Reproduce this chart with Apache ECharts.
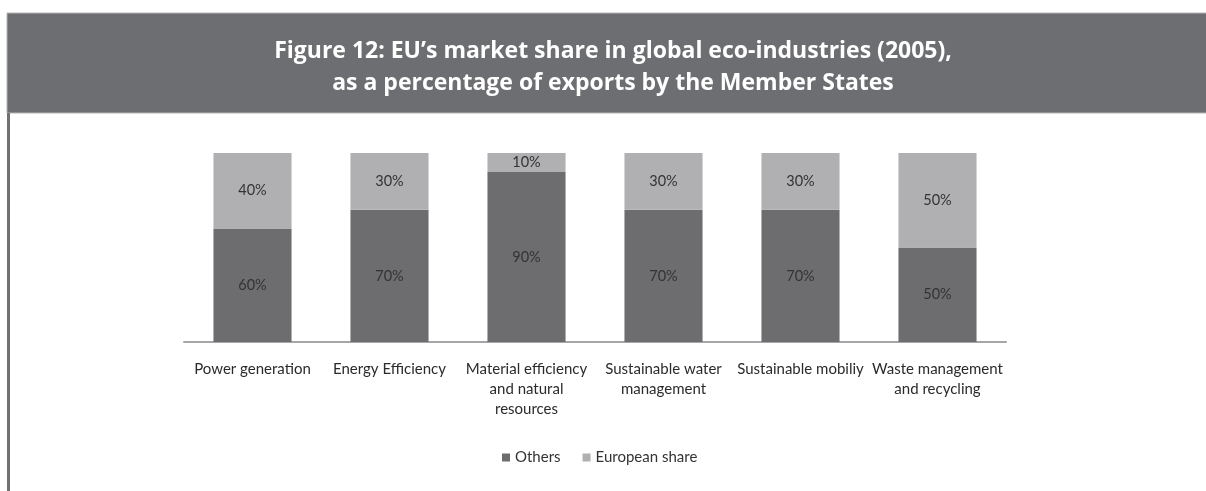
<!DOCTYPE html>
<html>
<head>
<meta charset="utf-8">
<script src="https://cdn.jsdelivr.net/npm/echarts@6/dist/echarts.min.js"></script>
<style>
  html, body { margin: 0; padding: 0; background: #ffffff; }
  #chart { width: 1206px; height: 491px; }
</style>
</head>
<body>
<div id="chart"></div>
<script>
// Eco-industry segments and their export shares (percent)
const categories = [
  'Power generation',
  'Energy Efficiency',
  'Material efficiency\nand natural\nresources',
  'Sustainable water\nmanagement',
  'Sustainable mobiliy',
  'Waste management\nand recycling'
];
const othersShare = [60, 70, 90, 70, 70, 50];
const europeanShare = [40, 30, 10, 30, 30, 50];
const seriesNames = ['Others', 'European share'];
const titleLines = [
  'Figure 12: EU\u2019s market share in global eco-industries (2005),',
  'as a percentage of exports by the Member States'
];

const chart = echarts.init(document.getElementById('chart'), null, { renderer: 'canvas' });

const labelFont = 'Lato, "Open Sans", sans-serif';

chart.setOption({
  backgroundColor: '#ffffff',
  animation: false,
  graphic: [
    {
      type: 'rect',
      shape: { x: 7, y: 13, width: 1200, height: 100 },
      style: { fill: '#6d6e71', stroke: '#b4b5b7', lineWidth: 1 },
      silent: true
    },
    {
      type: 'rect',
      shape: { x: 7, y: 113, width: 3, height: 378 },
      style: { fill: '#717171' },
      silent: true
    },
    {
      type: 'text',
      style: {
        x: 613, y: 67,
        text: titleLines.join('\n'),
        fill: '#ffffff',
        font: 'bold 23px "Open Sans", Lato, sans-serif',
        lineHeight: 32,
        textAlign: 'center',
        textVerticalAlign: 'middle'
      },
      silent: true
    }
  ],
  legend: {
    data: seriesNames,
    left: 497,
    top: 445,
    icon: 'rect',
    itemWidth: 8,
    itemHeight: 8,
    itemGap: 22,
    textStyle: { color: '#333333', fontSize: 15, fontFamily: labelFont }
  },
  grid: { left: 184, right: 200, top: 153, bottom: 149, containLabel: false },
  xAxis: {
    type: 'category',
    data: categories,
    axisLine: { lineStyle: { color: '#a6a6a8', width: 2 } },
    axisTick: { show: false },
    axisLabel: {
      interval: 0,
      margin: 17,
      color: '#2b2b2b',
      fontSize: 15,
      fontFamily: labelFont,
      lineHeight: 20
    }
  },
  yAxis: {
    type: 'value',
    min: 0,
    max: 100,
    show: false
  },
  series: [
    {
      name: seriesNames[0],
      type: 'bar',
      stack: 'share',
      barCategoryGap: '43%',
      data: othersShare,
      itemStyle: { color: '#6d6d6f' },
      label: {
        show: true,
        position: 'inside',
        formatter: '{c}%',
        color: '#333333',
        fontSize: 14.5,
        fontFamily: labelFont
      }
    },
    {
      name: seriesNames[1],
      type: 'bar',
      stack: 'share',
      barCategoryGap: '43%',
      data: europeanShare,
      itemStyle: { color: '#b0b0b3' },
      label: {
        show: true,
        position: 'inside',
        formatter: '{c}%',
        color: '#333333',
        fontSize: 14.5,
        fontFamily: labelFont
      }
    }
  ]
});
</script>
</body>
</html>
